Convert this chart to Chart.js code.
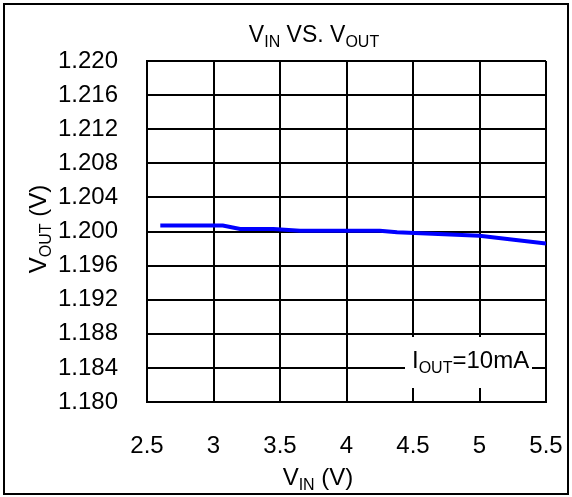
<!DOCTYPE html>
<html>
<head>
<meta charset="utf-8">
<script src="https://cdn.jsdelivr.net/npm/chart.js@4.4.0/dist/chart.umd.min.js"></script>
<style>
html, body { margin: 0; padding: 0; background: #fff; }
#wrap { width: 572px; height: 497px; }
</style>
</head>
<body>
<div id="wrap"><canvas id="chart" width="572" height="497"></canvas></div>
<script>
// Data
const vinValues = [2.6, 3.07, 3.2, 3.45, 3.65, 4.25, 4.38, 5.0, 5.5];
const voutValues = [1.2007, 1.2007, 1.2003, 1.2003, 1.2001, 1.2001, 1.1999, 1.1995, 1.1986];
const xTicks = [2.5, 3, 3.5, 4, 4.5, 5, 5.5];
const yTicks = [1.180, 1.184, 1.188, 1.192, 1.196, 1.200, 1.204, 1.208, 1.212, 1.216, 1.220];

const FONT = '"Liberation Sans", Arial, sans-serif';

// draws text with subscript parts: parts = [[text, isSub], ...]
function drawSubText(ctx, parts, x, y, align, size) {
    const big = size + "px " + FONT;
    const small = Math.round(size * 0.68) + "px " + FONT;
    const drop = Math.round(size * 0.22);
    let w = 0;
    parts.forEach(([t, s]) => {
        ctx.font = s ? small : big;
        w += ctx.measureText(t).width;
    });
    let cx = align === "center" ? x - w / 2 : x;
    ctx.textAlign = "left";
    ctx.textBaseline = "alphabetic";
    ctx.fillStyle = "#000";
    parts.forEach(([t, s]) => {
        ctx.font = s ? small : big;
        ctx.fillText(t, cx, s ? y + drop : y);
        cx += ctx.measureText(t).width;
    });
}

const labelsPlugin = {
    id: "labels",
    afterDatasetsDraw(chart) {
        const ctx = chart.ctx;
        ctx.save();
        // note box over the grid
        ctx.fillStyle = "#fff";
        ctx.fillRect(405, 337, 127, 51);
        drawSubText(ctx, [["I", false], ["OUT", true], ["=10mA", false]], 412, 368, "left", 24);
        ctx.restore();
    },
    afterDraw(chart) {
        const ctx = chart.ctx;
        ctx.save();
        drawSubText(ctx, [["V", false], ["IN", true], [" VS. V", false], ["OUT", true]], 314, 42, "center", 23);
        drawSubText(ctx, [["V", false], ["IN", true], [" (V)", false]], 318, 485, "center", 24);
        ctx.translate(46, 229);
        ctx.rotate(-Math.PI / 2);
        drawSubText(ctx, [["V", false], ["OUT", true], [" (V)", false]], 0, 0, "center", 24);
        ctx.restore();

        // outer frame
        ctx.save();
        ctx.strokeStyle = "#000";
        ctx.lineWidth = 2;
        ctx.strokeRect(4, 4, 564, 490);
        ctx.restore();
    }
};

new Chart(document.getElementById("chart"), {
    type: "line",
    data: {
        datasets: [{
            data: vinValues.map((v, i) => ({ x: v, y: voutValues[i] })),
            borderColor: "#0000ff",
            borderWidth: 4,
            pointRadius: 0,
            tension: 0,
            fill: false
        }]
    },
    options: {
        responsive: false,
        animation: false,
        layout: { padding: { top: 61, right: 26, bottom: 0, left: 0 } },
        plugins: {
            legend: { display: false },
            tooltip: { enabled: false },
            title: { display: false }
        },
        scales: {
            x: {
                type: "linear",
                min: 2.5,
                max: 5.5,
                afterBuildTicks: (scale) => { scale.ticks = xTicks.map(v => ({ value: v })); },
                afterFit: (scale) => {
                    scale.height = 95;
                    scale.paddingLeft = 0;
                    scale.paddingRight = 0;
                },
                grid: { color: "#000", lineWidth: 2, drawTicks: false },
                border: { color: "#000", width: 2 },
                ticks: {
                    color: "#000",
                    padding: 30,
                    maxRotation: 0,
                    autoSkip: false,
                    font: { family: FONT, size: 24 },
                    callback: (v) => String(v)
                }
            },
            y: {
                type: "linear",
                min: 1.18,
                max: 1.22,
                afterBuildTicks: (scale) => { scale.ticks = yTicks.map(v => ({ value: v })); },
                afterFit: (scale) => {
                    scale.width = 147;
                    scale.paddingTop = 0;
                    scale.paddingBottom = 0;
                },
                grid: { color: "#000", lineWidth: 2, drawTicks: false },
                border: { color: "#000", width: 2 },
                ticks: {
                    color: "#000",
                    padding: 29,
                    autoSkip: false,
                    font: { family: FONT, size: 24 },
                    callback: (v) => v.toFixed(3)
                }
            }
        }
    },
    plugins: [labelsPlugin]
});
</script>
</body>
</html>
